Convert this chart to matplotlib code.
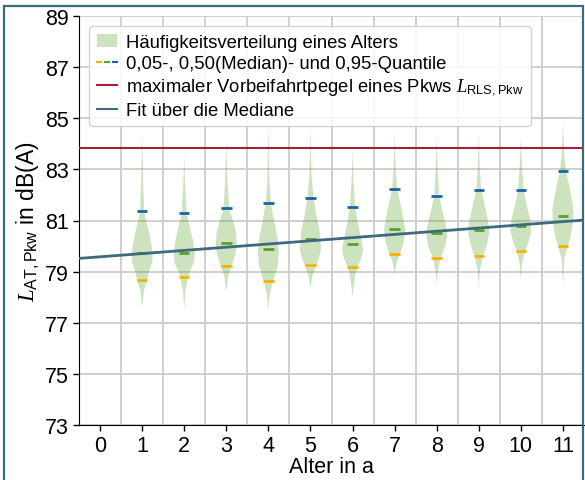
import numpy as np
import matplotlib
matplotlib.use("Agg")
from matplotlib import pyplot as plt
from matplotlib.lines import Line2D
from matplotlib.patches import Patch, Rectangle
from matplotlib.legend_handler import HandlerTuple

plt.rcParams['font.family'] = ['Liberation Sans', 'DejaVu Sans']
plt.rcParams['mathtext.fontset'] = 'custom'
plt.rcParams['mathtext.rm'] = 'Liberation Sans'
plt.rcParams['mathtext.sf'] = 'Liberation Sans'
plt.rcParams['mathtext.it'] = 'Liberation Serif:italic'

# Alter der Fahrzeuge (Jahre)
alter = [1, 2, 3, 4, 5, 6, 7, 8, 9, 10, 11]

# Quantile je Alter in dB(A)
q05 = [78.68, 78.78, 79.21, 78.64, 79.26, 79.17, 79.70, 79.52, 79.60, 79.81, 80.01]
q50 = [79.73, 79.74, 80.12, 79.90, 80.28, 80.09, 80.67, 80.51, 80.64, 80.80, 81.19]
q95 = [81.36, 81.28, 81.50, 81.67, 81.87, 81.53, 82.22, 81.97, 82.20, 82.20, 82.94]

# Haeufigkeitsverteilung: Pegel und relative Dichte je Alter
pegel = [
    [77.6, 77.8, 78.3, 78.68, 78.98, 79.38, 79.77, 80.4, 80.94, 81.36, 82.5, 83.8, 84.3],
    [77.6, 77.73, 78.3, 78.78, 78.98, 79.38, 79.74, 80.16, 80.8, 81.28, 82.4, 83.34, 83.5],
    [78.2, 78.4, 78.84, 79.21, 79.62, 80.0, 80.55, 81.06, 81.5, 82.6, 83.9, 84.1],
    [77.5, 77.73, 78.2, 78.64, 79.23, 79.77, 80.28, 80.94, 81.67, 82.5, 84.4, 84.6],
    [78.3, 78.5, 78.84, 79.26, 79.5, 79.88, 80.55, 81.19, 81.87, 82.8, 84.3, 84.5],
    [78.0, 78.19, 78.71, 79.17, 79.5, 79.88, 80.28, 80.93, 81.53, 82.6, 83.6, 83.8],
    [78.8, 78.98, 79.38, 79.70, 79.88, 80.28, 80.67, 81.45, 82.22, 83.2, 84.3, 84.5],
    [78.5, 78.71, 79.1, 79.52, 80.0, 80.4, 80.8, 81.33, 81.97, 83.0, 84.07, 84.3],
    [78.4, 78.64, 79.1, 79.6, 80.0, 80.47, 80.8, 81.45, 82.2, 83.2, 84.2, 84.4],
    [78.7, 78.9, 79.36, 79.81, 80.15, 80.6, 81.06, 81.58, 82.2, 83.2, 84.07, 84.3],
    [78.4, 78.58, 79.5, 80.01, 80.4, 80.93, 81.45, 82.1, 82.94, 83.67, 84.7, 84.9],
]
dichte = [
    [0, 3, 12, 30, 40, 60, 62, 45, 25, 12, 6, 2, 0],
    [0, 2, 8, 22, 30, 55, 58, 50, 30, 14, 5, 1, 0],
    [0, 3, 12, 30, 50, 60, 55, 35, 16, 6, 1, 0],
    [0, 3, 10, 28, 55, 62, 55, 35, 16, 6, 1, 0],
    [0, 3, 12, 35, 50, 62, 55, 35, 18, 6, 1, 0],
    [0, 3, 12, 28, 50, 62, 50, 30, 16, 5, 1, 0],
    [0, 2, 12, 30, 40, 55, 60, 40, 14, 5, 1, 0],
    [0, 2, 8, 22, 50, 62, 55, 35, 14, 6, 1, 0],
    [0, 2, 8, 25, 45, 62, 60, 40, 14, 5, 1, 0],
    [0, 2, 8, 25, 45, 62, 55, 35, 16, 6, 1, 0],
    [0, 1, 8, 30, 45, 60, 62, 45, 18, 6, 1, 0],
]

# Fit ueber die Mediane (Steigung, Achsenabschnitt)
fit_coef = [0.125, 79.58]
l_rls = 83.83

c_green = '#5aa02c'
c_orange = '#ffb000'
c_blue = '#1565a8'
c_red = '#a51e36'
c_fit = '#3e6a80'

fig = plt.figure(figsize=(5.85, 4.81), dpi=100)
ax = fig.add_axes([79 / 585, 1 - 426 / 481, 505 / 585, 409 / 481])

vpstats = []
for i in range(len(alter)):
    vpstats.append(dict(coords=np.array(pegel[i]), vals=np.array(dichte[i], dtype=float),
                        mean=q50[i], median=q50[i], min=pegel[i][0], max=pegel[i][-1]))
parts = ax.violin(vpstats, positions=alter, widths=0.5, showextrema=False)
for b in parts['bodies']:
    b.set_facecolor(c_green)
    b.set_edgecolor('none')
    b.set_alpha(0.3)

hw = 0.125
pos = np.array(alter)
ax.hlines(q05, pos - hw, pos + hw, color=c_orange, lw=2, zorder=3)
ax.hlines(q50, pos - hw, pos + hw, color=c_green, lw=2, zorder=3)
ax.hlines(q95, pos - hw, pos + hw, color=c_blue, lw=2, zorder=3)

ax.axhline(l_rls, color=c_red, lw=1.5, zorder=4)
xs = np.array([-0.5, 11.5])
ax.plot(xs, np.polyval(fit_coef, xs), color=c_fit, lw=2, zorder=4)

ax.set_xlim(-0.5, 11.5)
ax.set_ylim(73, 89)
ax.set_xticks(range(0, 12))
ax.set_xticks(np.arange(0.5, 11, 1), minor=True)
ax.set_yticks(range(73, 90, 2))
ax.tick_params(axis='both', which='major', labelsize=15.5, length=4, width=1, color='black')
ax.tick_params(axis='x', which='minor', length=0)
ax.grid(axis='y', which='major', color='#cccccc', lw=1.3)
ax.grid(axis='x', which='minor', color='#cccccc', lw=1.3)
ax.set_axisbelow(True)
for s in ['top', 'right']:
    ax.spines[s].set_visible(False)
for s in ['left', 'bottom']:
    ax.spines[s].set_color('black')

ax.set_xlabel('Alter in a', fontsize=15.5, labelpad=0)
ax.set_ylabel(r'$L_\mathrm{AT,Pkw}$ in dB(A)', fontsize=16.5, labelpad=2)

h_quant = (Line2D([], [], color=c_orange, lw=1.5),
           Line2D([], [], color=c_green, lw=1.5),
           Line2D([], [], color=c_blue, lw=1.5))
handles = [Patch(facecolor=c_green, alpha=0.3, edgecolor='none'),
           h_quant,
           Line2D([], [], color=c_red, lw=1.5),
           Line2D([], [], color=c_fit, lw=1.5)]
labels = ['Häufigkeitsverteilung eines Alters',
          '0,05-, 0,50(Median)- und 0,95-Quantile',
          r'maximaler Vorbeifahrtpegel eines Pkws $L_\mathrm{RLS,Pkw}$',
          'Fit über die Mediane']
ax.legend(handles, labels, loc='upper left', fontsize=13.3, handlelength=1.1,
          handletextpad=0.5, labelspacing=0.25, borderaxespad=0.55, borderpad=0.4,
          handler_map={tuple: HandlerTuple(ndivide=None, pad=0.2)}, framealpha=0.85)

fig.patches.append(Rectangle((4 / 585, -0.05), 579 / 585, 1.05 - 7 / 481,
                             transform=fig.transFigure, fill=False,
                             edgecolor=c_fit, lw=1.6, zorder=10))

fig.savefig('out.png', dpi=100)
